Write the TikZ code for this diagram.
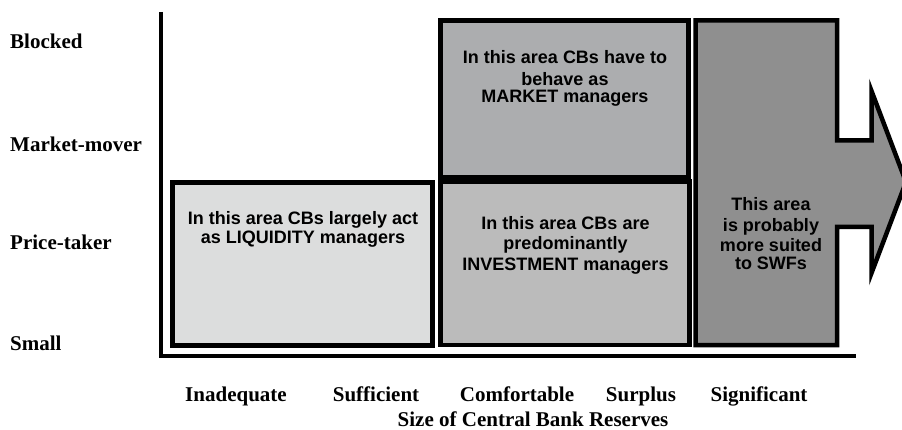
\documentclass[tikz,border=0pt]{standalone}
\usepackage{fontspec}
\setmainfont{Liberation Serif}
\newfontfamily\boxfont{Liberation Sans}
\definecolor{liqgray}{HTML}{DCDDDD}
\definecolor{mktgray}{HTML}{ACADAF}
\definecolor{invgray}{HTML}{BBBBBB}
\definecolor{swfgray}{HTML}{8F8F8F}
\tikzset{
  axisline/.style={line width=4pt},
  areabox/.style={line width=4.5pt, draw=black, line join=miter},
  boxtext/.style={font=\boxfont\bfseries\fontsize{18}{19}\selectfont, align=center, inner sep=0pt},
  ylab/.style={font=\bfseries\fontsize{21}{21}\selectfont, anchor=base west, inner sep=0pt},
  xlab/.style={font=\bfseries\fontsize{21}{21}\selectfont, anchor=base, inner sep=0pt}
}
\begin{document}
\begin{tikzpicture}[x=1pt,y=-1pt]
\useasboundingbox (0,0) rectangle (902,430);
% boxes
\draw[areabox, fill=liqgray] (172.5,182.5) rectangle (432.5,345.5);
\draw[areabox, fill=mktgray] (440.5,20.5) rectangle (688.5,177);
\draw[areabox, fill=invgray] (440.5,181.5) rectangle (689.5,345);
\draw[areabox, fill=swfgray] (695.5,20.5) -- (837,20.5) -- (837,140.5) -- (871.5,140.5) -- (871.5,91)
  -- (906,182) -- (871.5,273) -- (871.5,227) -- (837,227) -- (837,345) -- (695.5,345) -- cycle;
% axes
\coordinate (ytop) at (161,12);
\coordinate (origin) at (161,356);
\coordinate (xend) at (856,356);
\draw[axisline] (ytop) -- (161,358);
\draw[axisline] (159,356) -- (xend);
% box texts
\node[boxtext] (liq) at (303,229.5) {In this area CBs largely act\\as LIQUIDITY managers};
\node[boxtext] (mkt) at (565,78) {In this area CBs have to\\[3pt]behave as\\[-2pt]MARKET managers};
\node[boxtext] (inv) at (565.5,245) {In this area CBs are\\[1.5pt]predominantly\\[1.5pt]INVESTMENT managers};
\node[boxtext] (swf) at (771,233.5) {This area\\[2pt]is probably\\[1pt]more suited\\[-1pt]to SWFs};
% y labels
\node[ylab] (blocked) at (10,49) {Blocked};
\node[ylab] (mover) at (10,152) {Market-mover};
\node[ylab] (taker) at (10,250) {Price-taker};
\node[ylab] (small) at (10,350) {Small};
% x labels
\node[xlab] (inad) at (236,401) {Inadequate};
\node[xlab] (suff) at (376,401) {Sufficient};
\node[xlab] (comf) at (517,401) {Comfortable};
\node[xlab] (surp) at (641,401) {Surplus};
\node[xlab] (sign) at (759,401) {Significant};
\node[xlab] (xtitle) at (533,426) {Size of Central Bank Reserves};
\end{tikzpicture}
\end{document}
